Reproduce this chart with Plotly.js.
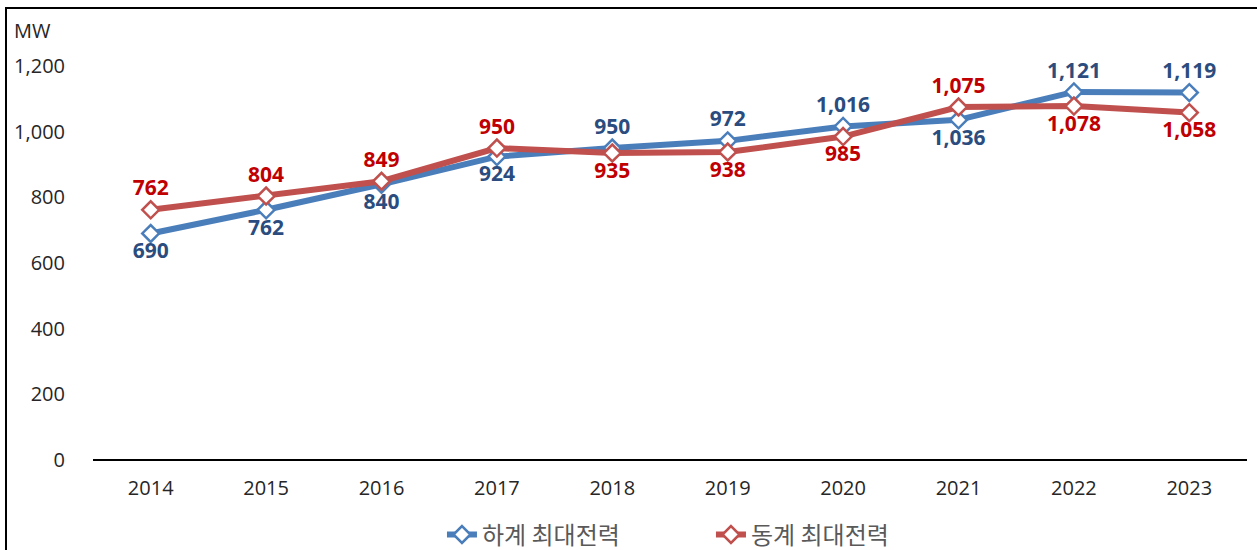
<!DOCTYPE html>
<html>
<head>
<meta charset="utf-8">
<script src="https://cdn.plot.ly/plotly-3.0.1.min.js"></script>
<style>
html,body{margin:0;padding:0;background:#fff;}
#chart{width:1257px;height:550px;}
#frame{position:absolute;left:5px;top:7px;width:1260px;height:560px;border-left:2px solid #000;border-top:2px solid #000;pointer-events:none;}
</style>
</head>
<body>
<div id="chart"></div>
<div id="frame"></div>
<script>
const years = ['2014','2015','2016','2017','2018','2019','2020','2021','2022','2023'];
const summerPeak = [690, 762, 840, 924, 950, 972, 1016, 1036, 1121, 1119];
const winterPeak = [762, 804, 849, 950, 935, 938, 985, 1075, 1078, 1058];
const summerName = '하계 최대전력';
const winterName = '동계 최대전력';
const summerLabelPos = ['bottom center','bottom center','bottom center','bottom center','top center','top center','top center','bottom center','top center','top center'];
const winterLabelPos = ['top center','top center','top center','top center','bottom center','bottom center','bottom center','top center','bottom center','bottom center'];
const yTicks = [0, 200, 400, 600, 800, 1000, 1200];

const fmt = v => v.toLocaleString('en-US');
const labelFont = {family: 'Open Sans, Noto Sans, sans-serif', size: 21, weight: 'bold'};

const traces = [
  {
    x: years, y: summerPeak, name: summerName, type: 'scatter', mode: 'lines+markers+text',
    line: {color: '#4A7EBB', width: 6},
    marker: {symbol: 'diamond', size: 13, color: '#ffffff', line: {color: '#4A7EBB', width: 2.5}},
    text: summerPeak.map(fmt), textposition: summerLabelPos,
    textfont: Object.assign({color: '#2B4C7E'}, labelFont),
    cliponaxis: false, hoverinfo: 'x+y'
  },
  {
    x: years, y: winterPeak, name: winterName, type: 'scatter', mode: 'lines+markers+text',
    line: {color: '#C0504D', width: 6},
    marker: {symbol: 'diamond', size: 13, color: '#ffffff', line: {color: '#C0504D', width: 2.5}},
    text: winterPeak.map(fmt), textposition: winterLabelPos,
    textfont: Object.assign({color: '#C00000'}, labelFont),
    cliponaxis: false, hoverinfo: 'x+y'
  }
];

const layout = {
  width: 1257, height: 550,
  margin: {l: 93, r: 10, t: 66, b: 90, autoexpand: false},
  paper_bgcolor: '#ffffff', plot_bgcolor: '#ffffff',
  font: {family: 'Open Sans, Noto Sans, sans-serif', color: '#262626', size: 20},
  showlegend: true,
  legend: {
    orientation: 'h', x: 0.3024, xanchor: 'left',
    yref: 'paper', y: -0.133, yanchor: 'top',
    font: {family: 'Noto Sans CJK KR, sans-serif', size: 24, color: '#595959'},
    itemwidth: 30, entrywidth: 224, tracegroupgap: 0
  },
  xaxis: {
    type: 'category', range: [-0.5, 9.5],
    showgrid: false, zeroline: false,
    showline: false, ticks: '',
    tickfont: {size: 20, color: '#262626'},
    ticklabelstandoff: 14, fixedrange: true
  },
  yaxis: {
    range: [0, 1200], tickvals: yTicks, ticktext: yTicks.map(fmt),
    showgrid: false, zeroline: true, zerolinecolor: '#000000', zerolinewidth: 2,
    showline: false, ticks: '',
    tickfont: {size: 20, color: '#262626'},
    ticklabelstandoff: 27, fixedrange: true
  },
  annotations: [{
    xref: 'paper', yref: 'paper', x: -0.07, y: 1.091, xanchor: 'left', yanchor: 'middle',
    text: 'MW', showarrow: false, font: {size: 20, color: '#262626'}
  }]
};

Plotly.newPlot('chart', traces, layout, {displayModeBar: false, staticPlot: true});
</script>
</body>
</html>
